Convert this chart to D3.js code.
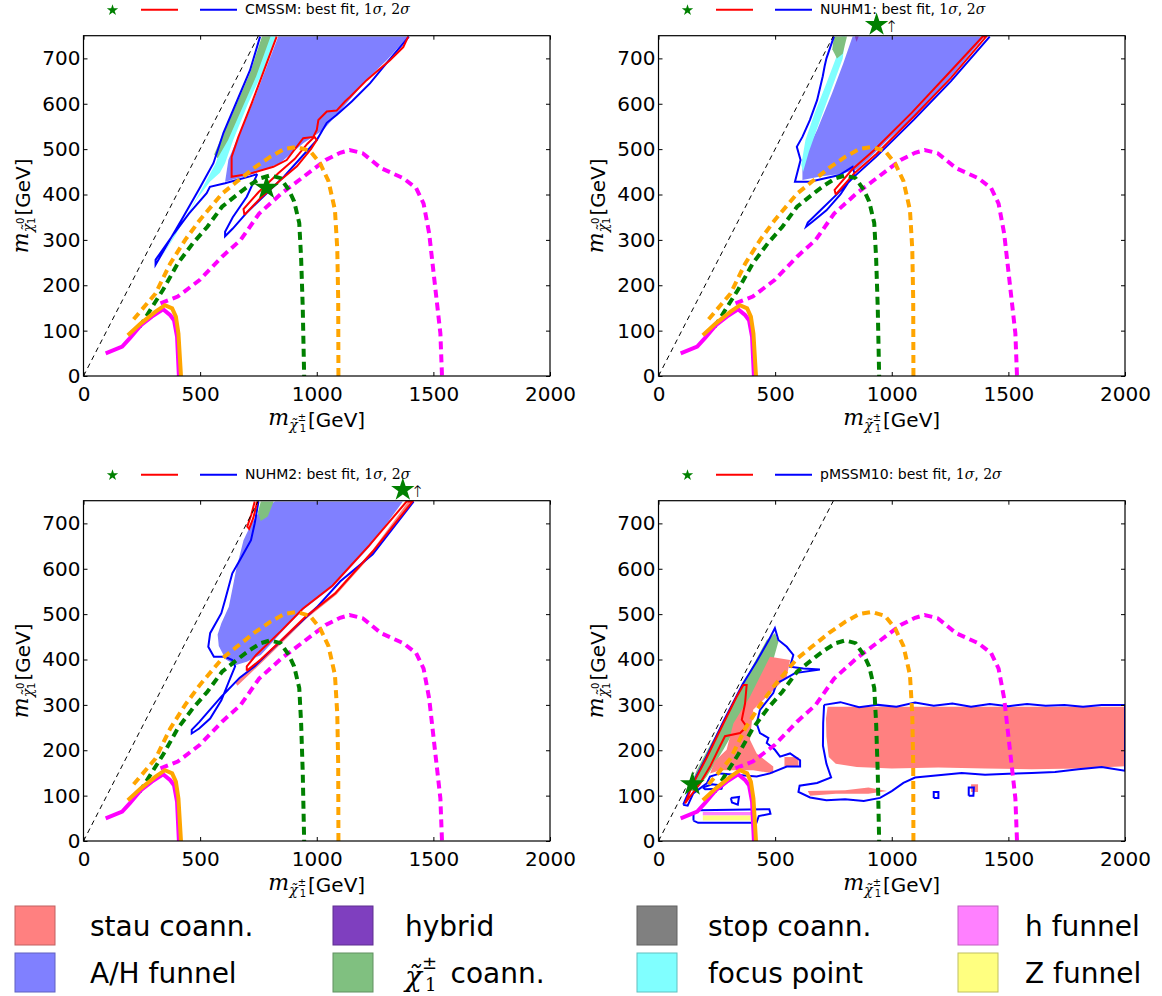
<!DOCTYPE html>
<html>
<head>
<meta charset="utf-8">
<script src="https://cdn.jsdelivr.net/npm/d3@7"></script>
<style>
  body { margin: 0; background: #fff; }
  svg { display: block; }
</style>
</head>
<body>
<svg width="1162" height="996"></svg>
<script>
// ----- axes -----
const xTicks = [0, 500, 1000, 1500, 2000];
const yTicks = [0, 100, 200, 300, 400, 500, 600, 700];
const diagonal = [[0, 0], [750, 750]];

// ----- LHC limit curves (same in all four panels), GeV -----
const magentaSolid = [[95,50],[166,65],[198,83],[246,112],[293,131],[341,147],[372,134],[388,123],[401,87],[409,0]];
const orangeSolid = [[190,90],[246,116],[309,142],[349,156],[380,149],[396,131],[407,94],[418,0]];
const orangeDashed = [[215,125],[309,182],[372,248],[436,300],[499,344],[594,402],[657,428],[730,458],[800,483],[860,500],[914,505],[971,496],[1014,469],[1050,430],[1078,366],[1088,280],[1092,167],[1093,0]];
const greenDashed = [[240,108],[341,190],[404,248],[468,292],[531,329],[594,373],[674,406],[714,421],[760,436],[800,442],[845,436],[880,410],[903,385],[925,337],[933,260],[940,150],[946,0]];
const magentaDashed = [[330,160],[404,175],[499,212],[594,263],[674,300],[753,358],[848,402],[943,439],[1038,476],[1100,492],[1141,498],[1197,491],[1276,458],[1371,436],[1426,414],[1458,380],[1482,314],[1506,204],[1530,94],[1537,0]];

// ----- CMSSM -----
const cmssmAH = [[835,748],[1392,748],[1300,696],[1228,660],[1128,601],[1028,542],[942,513],[842,469],[714,443],[607,428],[621,476],[657,520],[728,605]];
const cmssmFocus = [[790,748],[825,748],[785,689],[706,601],[642,520],[607,469],[585,448],[542,428],[485,389],[442,351],[400,321],[335,262],[390,307],[440,351],[510,415],[567,469],[610,536],[667,605],[722,674]];
const cmssmChargino = [[765,748],[802,748],[740,660],[680,590],[620,520],[575,480],[560,488],[600,536],[657,600],[714,668]];
const cmssmOne = [
  [[828,748],[721,601],[664,527],[635,483],[635,439],[714,446],[814,461],[871,476],[942,524],[985,527],[1000,542],[1007,564],[1043,583],[1085,585],[1121,605],[1142,615],[1214,652],[1257,671],[1314,696],[1371,725],[1392,748]],
  [[690,355],[755,390],[845,432],[915,462],[975,500],[1000,520],[990,527],[960,512],[905,478],[835,447],[750,405],[686,368],[690,355]]
];
const cmssmTwo = [
  [[757,748],[714,674],[657,605],[600,536],[557,469],[499,415],[428,351],[378,307],[309,245],[309,256],[317,262],[388,314],[452,358],[528,403],[542,417],[607,425],[714,440],[745,445]],
  [[745,445],[700,395],[640,350],[607,318],[607,308],[640,325],[700,360],[780,400],[860,440],[930,480],[1000,520],[1043,558],[1085,575],[1150,605],[1228,645],[1300,690],[1395,748]]
];
const cmssmBest = [785, 415];

// ----- NUHM1 -----
const nuhm1AH = [[832,748],[1398,748],[1254,660],[1095,571],[983,520],[904,480],[850,455],[780,445],[700,440],[617,432],[617,476],[680,542],[744,623],[792,689]];
const nuhm1Focus = [[785,748],[800,748],[790,700],[740,630],[690,560],[645,495],[620,450],[612,465],[630,520],[670,580],[720,645],[760,700]];
const nuhm1Chargino = [[752,748],[808,748],[790,710],[765,700],[745,720]];
const nuhm1Hybrid = [[842,748],[858,748],[849,736]];
const nuhm1One = [
  [[760,400],[840,447],[935,490],[1095,572],[1254,657],[1405,748],[1390,748],[1240,665],[1085,580],[925,498],[830,455],[755,410],[760,400]]
];
const nuhm1Two = [
  [[752,748],[720,700],[712,682],[704,660],[680,608],[649,564],[617,527],[593,505],[609,476],[585,428],[649,428],[776,443],[832,461],[840,447]],
  [[840,447],[780,400],[720,365],[660,340],[633,329],[640,338],[700,368],[760,398],[840,440],[935,484],[1095,565],[1254,650],[1420,748]]
];
const nuhm1Best = [935, null];

// ----- NUHM2 -----
const nuhm2AH = [[821,748],[1369,748],[1226,648],[1068,560],[940,509],[845,458],[760,410],[700,395],[654,388],[610,400],[580,430],[575,455],[591,480],[623,516],[640,560],[654,597],[686,663],[720,700],[760,730]];
const nuhm2Chargino = [[760,748],[815,748],[790,715],[760,705],[748,725]];
const nuhm2Stau = [[650,350],[760,402],[850,447],[950,497],[1080,550],[1240,642],[1392,748],[1405,748],[1245,636],[1085,543],[955,490],[858,440],[768,395],[660,342]];
const nuhm2One = [
  [[734,748],[720,720],[702,693],[710,688],[728,712],[745,748]],
  [[700,375],[760,400],[850,443],[950,493],[1080,546],[1240,638],[1410,748],[1385,748],[1226,652],[1068,563],[940,512],[845,462],[740,410],[700,385],[700,375]]
];
const nuhm2Two = [
  [[750,748],[734,700],[718,663],[670,619],[638,590],[607,531],[591,502],[543,458],[535,428],[559,406],[607,406],[638,399],[650,385],[630,360],[591,310],[543,270],[496,248],[464,237],[464,245],[496,262],[591,318],[670,360],[734,385],[800,418],[900,467],[1000,515],[1100,572],[1240,632],[1415,748]]
];
const nuhm2Best = [1369, null];

// ----- pMSSM10 -----
const pmssmChargino = [[499,458],[514,439],[492,399],[421,340],[350,267],[278,201],[207,142],[156,109],[128,112],[164,156],[264,252],[364,348],[464,443]];
const pmssmStau = [
  [[478,406],[564,399],[550,362],[464,318],[406,289],[392,223],[421,193],[492,164],[492,149],[406,156],[264,156],[221,149],[240,175],[292,201],[321,259],[357,289],[392,318],[435,362],[464,392]],
  [[540,165],[600,165],[600,185],[540,185]],
  [[725,296],[2000,296],[2000,165],[1800,160],[1600,158],[1400,160],[1200,162],[1000,160],[850,163],[760,170],[730,185],[720,230],[718,270]],
  [[640,110],[800,112],[900,118],[980,110],[900,104],[760,104],[650,100]],
  [[1340,108],[1370,108],[1370,125],[1340,125]]
];
const pmssmHfunnel = [[190,56],[415,56],[415,64],[190,64]];
const pmssmZfunnel = [[190,45],[415,45],[415,56],[190,56]];
const pmssmOne = [
  [[114,83],[149,127],[207,184],[278,259],[335,318],[364,344],[378,344],[371,303],[357,267],[378,252],[350,238],[285,231],[256,201],[221,164],[178,127],[135,98],[114,83]]
];
const pmssmTwo = [
  [[106,80],[140,120],[200,180],[280,265],[360,345],[420,395],[470,440],[499,469],[514,443],[550,428],[578,410],[564,384],[621,380],[692,378],[585,370],[535,355],[507,348],[492,326],[435,289],[421,259],[435,238],[471,227],[464,216],[499,201],[521,186],[564,193],[607,178],[607,164],[550,164],[478,149],[421,142],[264,149],[221,142],[207,127],[149,105],[125,78],[106,80]],
  [[190,118],[230,125],[275,122],[270,115],[200,114],[190,118]],
  [[310,95],[345,97],[340,80],[315,85],[310,95]],
  [[150,45],[150,60],[175,68],[475,70],[480,60],[430,55],[420,40],[170,40],[150,45]],
  [[710,300],[780,306],[860,295],[940,300],[1020,296],[1100,305],[1180,298],[1260,303],[1340,296],[1420,302],[1500,297],[1580,302],[1660,298],[1740,300],[1820,296],[1900,300],[2000,300],[2000,155],[1900,163],[1800,158],[1700,152],[1600,150],[1500,148],[1400,146],[1300,150],[1200,145],[1100,140],[1050,128],[1000,110],[950,95],[880,88],[800,92],[720,90],[650,96],[600,108],[605,122],[680,128],[740,140],[720,170],[705,210],[706,260],[710,300]],
  [[1180,95],[1200,95],[1200,108],[1180,108],[1180,95]],
  [[1330,100],[1350,100],[1352,118],[1330,118],[1330,100]]
];
const pmssmBest = [145, 125];

// ----- bottom legend -----
const legendKeys = ["stau", "ah", "hybrid", "chargino", "stop", "focus", "hfun", "zfun"];
const legendNames = ["stau coann.", "A/H funnel", "hybrid", "coann.", "stop coann.", "focus point", "h funnel", "Z funnel"];

const regionColor = {
  stau: "#ff8080", ah: "#8080ff", hybrid: "#7f3fbf", chargino: "#80c080",
  stop: "#808080", focus: "#80ffff", hfun: "#ff80ff", zfun: "#ffff80"
};

const panels = [
  { name: "CMSSM", left: 83.5, top: 35.7,
    fills: [["ah", cmssmAH], ["focus", cmssmFocus], ["chargino", cmssmChargino]],
    one: cmssmOne, two: cmssmTwo, best: cmssmBest },
  { name: "NUHM1", left: 658.5, top: 35.7,
    fills: [["ah", nuhm1AH], ["focus", nuhm1Focus], ["chargino", nuhm1Chargino], ["hybrid", nuhm1Hybrid]],
    one: nuhm1One, two: nuhm1Two, best: nuhm1Best },
  { name: "NUHM2", left: 83.5, top: 500.7,
    fills: [["ah", nuhm2AH], ["stau", nuhm2Stau], ["chargino", nuhm2Chargino]],
    one: nuhm2One, two: nuhm2Two, best: nuhm2Best },
  { name: "pMSSM10", left: 658.5, top: 500.7,
    fills: [["chargino", pmssmChargino]].concat(pmssmStau.map(p => ["stau", p]), [["hfun", pmssmHfunnel], ["zfun", pmssmZfunnel]]),
    one: pmssmOne, two: pmssmTwo, best: pmssmBest }
];

const W = 466.5, H = 340.3;
const svg = d3.select("svg");
const defs = svg.append("defs");
const starSym = d3.symbol().type(d3.symbolStar);

// mass label with tilde chi, super/subscripts
function massLabel(t, sup, size) {
  t.append("tspan").attr("font-family", "DejaVu Serif").attr("font-style", "italic")
    .attr("font-size", size + 2).text("m");
  t.append("tspan").attr("font-family", "DejaVu Serif").attr("font-style", "italic")
    .attr("font-size", size * 0.7).attr("dy", size * 0.25).text("χ̃");
  t.append("tspan").attr("font-size", size * 0.5).attr("dy", -size * 0.45).text(sup);
  t.append("tspan").attr("font-size", size * 0.5).attr("dx", -size * 0.32).attr("dy", size * 0.55).text("1");
}

panels.forEach((p, i) => {
  const x = d3.scaleLinear().domain([0, 2000]).range([0, W]);
  const y = d3.scaleLinear().domain([0, 750]).range([H, 0]);
  const line = d3.line().x(d => x(d[0])).y(d => y(d[1]));

  const g = svg.append("g").attr("transform", `translate(${p.left},${p.top})`);
  defs.append("clipPath").attr("id", "clip" + i)
    .append("rect").attr("width", W).attr("height", H);
  const plot = g.append("g").attr("clip-path", `url(#clip${i})`);

  // filled regions
  p.fills.forEach(f => {
    plot.append("path").attr("d", line(f[1]) + "Z")
      .attr("fill", regionColor[f[0]]).attr("stroke", "none");
  });

  // 1 sigma / 2 sigma contours
  p.two.forEach(c => plot.append("path").attr("d", line(c))
    .attr("fill", "none").attr("stroke", "#0000ff").attr("stroke-width", 2));
  p.one.forEach(c => plot.append("path").attr("d", line(c))
    .attr("fill", "none").attr("stroke", "#ff0000").attr("stroke-width", 2));

  // m_chi0 = m_chi+- guide
  plot.append("path").attr("d", line(diagonal)).attr("fill", "none")
    .attr("stroke", "#000").attr("stroke-width", 1).attr("stroke-dasharray", "5,4");

  // LHC limits
  [[magentaDashed, "#ff00ff"], [orangeDashed, "#ffa500"], [greenDashed, "#008000"]].forEach(c => {
    plot.append("path").attr("d", line(c[0])).attr("fill", "none")
      .attr("stroke", c[1]).attr("stroke-width", 4).attr("stroke-dasharray", "8,5");
  });
  [[magentaSolid, "#ff00ff"], [orangeSolid, "#ffa500"]].forEach(c => {
    plot.append("path").attr("d", line(c[0])).attr("fill", "none")
      .attr("stroke", c[1]).attr("stroke-width", 4);
  });

  // best fit point
  if (p.best[1] != null) {
    plot.append("path").attr("d", starSym.size(190)())
      .attr("transform", `translate(${x(p.best[0])},${y(p.best[1])})`)
      .attr("fill", "#008000");
  } else {
    g.append("path").attr("d", starSym.size(170)())
      .attr("transform", `translate(${x(p.best[0])},-11)`).attr("fill", "#008000");
    g.append("text").attr("x", x(p.best[0]) + 15).attr("y", -4)
      .attr("font-family", "DejaVu Sans").attr("font-size", 16).attr("font-weight", 200)
      .attr("text-anchor", "middle").text("↑");
  }

  // axes, ticks inside on all four sides
  const fmt = d3.format("d");
  g.append("g").attr("transform", `translate(0,${H})`)
    .call(d3.axisBottom(x).tickValues(xTicks).tickFormat(fmt).tickSizeInner(-4).tickSizeOuter(0).tickPadding(11));
  g.append("g")
    .call(d3.axisLeft(y).tickValues(yTicks).tickFormat(fmt).tickSizeInner(-4).tickSizeOuter(0).tickPadding(3));
  g.append("g")
    .call(d3.axisTop(x).tickValues(xTicks).tickFormat("").tickSizeInner(-4).tickSizeOuter(0));
  g.append("g").attr("transform", `translate(${W},0)`)
    .call(d3.axisRight(y).tickValues(yTicks).tickFormat("").tickSizeInner(-4).tickSizeOuter(0));
  g.selectAll(".domain").remove();
  g.selectAll(".tick line").attr("stroke", "#000");
  g.selectAll(".tick text").attr("font-family", "DejaVu Sans").attr("font-size", 20).attr("fill", "#000");
  g.append("rect").attr("width", W).attr("height", H).attr("fill", "none")
    .attr("stroke", "#000").attr("stroke-width", 1.2);

  // axis titles
  const xt = g.append("text").attr("x", W / 2).attr("y", H + 49).attr("text-anchor", "middle")
    .attr("font-family", "DejaVu Sans").attr("fill", "#000");
  massLabel(xt, "±", 20);
  xt.append("tspan").attr("font-size", 20).attr("dy", -5).attr("dx", 2).text("[GeV]");

  const yt = g.append("text").attr("transform", `translate(-56,${H / 2}) rotate(-90)`)
    .attr("text-anchor", "middle").attr("font-family", "DejaVu Sans").attr("fill", "#000");
  massLabel(yt, "0", 20);
  yt.append("tspan").attr("font-size", 20).attr("dy", -5).attr("dx", 2).text("[GeV]");

  // panel legend above the frame
  const lg = g.append("g").attr("transform", "translate(0,-26)");
  lg.append("path").attr("d", starSym.size(40)()).attr("transform", "translate(29,0.5)").attr("fill", "#008000");
  lg.append("line").attr("x1", 57.5).attr("x2", 94.5).attr("stroke", "#ff0000").attr("stroke-width", 2);
  lg.append("line").attr("x1", 116.5).attr("x2", 153.5).attr("stroke", "#0000ff").attr("stroke-width", 2);
  const lt = lg.append("text").attr("x", 161.5).attr("y", 4.5)
    .attr("font-family", "DejaVu Sans").attr("font-size", 14).attr("fill", "#000");
  lt.append("tspan").text(p.name + ": best fit, ");
  lt.append("tspan").attr("font-family", "DejaVu Serif").text("1");
  lt.append("tspan").attr("font-family", "DejaVu Serif").attr("font-style", "italic").text("σ");
  lt.append("tspan").text(", ");
  lt.append("tspan").attr("font-family", "DejaVu Serif").text("2");
  lt.append("tspan").attr("font-family", "DejaVu Serif").attr("font-style", "italic").text("σ");
});

// ----- bottom legend -----
const boxX = [15, 333, 637, 958];
const textX = [90, 405, 708, 1025];
const rowY = [906, 953];
const leg = svg.append("g");
legendKeys.forEach((k, i) => {
  const col = Math.floor(i / 2), row = i % 2;
  const c = regionColor[k];
  leg.append("rect").attr("x", boxX[col]).attr("y", rowY[row]).attr("width", 40).attr("height", 39)
    .attr("fill", c).attr("stroke", d3.color(c).darker(0.8)).attr("stroke-width", 1);
  const t = leg.append("text").attr("x", textX[col]).attr("y", rowY[row] + 30)
    .attr("font-family", "DejaVu Sans").attr("font-size", 28).attr("fill", "#000");
  if (k === "chargino") {
    t.append("tspan").attr("font-family", "DejaVu Serif").attr("font-style", "italic").attr("dy", 3).text("χ̃");
    t.append("tspan").attr("font-size", 18).attr("dy", -17).text("±");
    t.append("tspan").attr("font-family", "DejaVu Serif").attr("font-size", 18).attr("dx", -12).attr("dy", 22).text("1");
    t.append("tspan").attr("dx", 14).attr("dy", -8).text(legendNames[i]);
  } else {
    t.text(legendNames[i]);
  }
});
</script>
</body>
</html>
